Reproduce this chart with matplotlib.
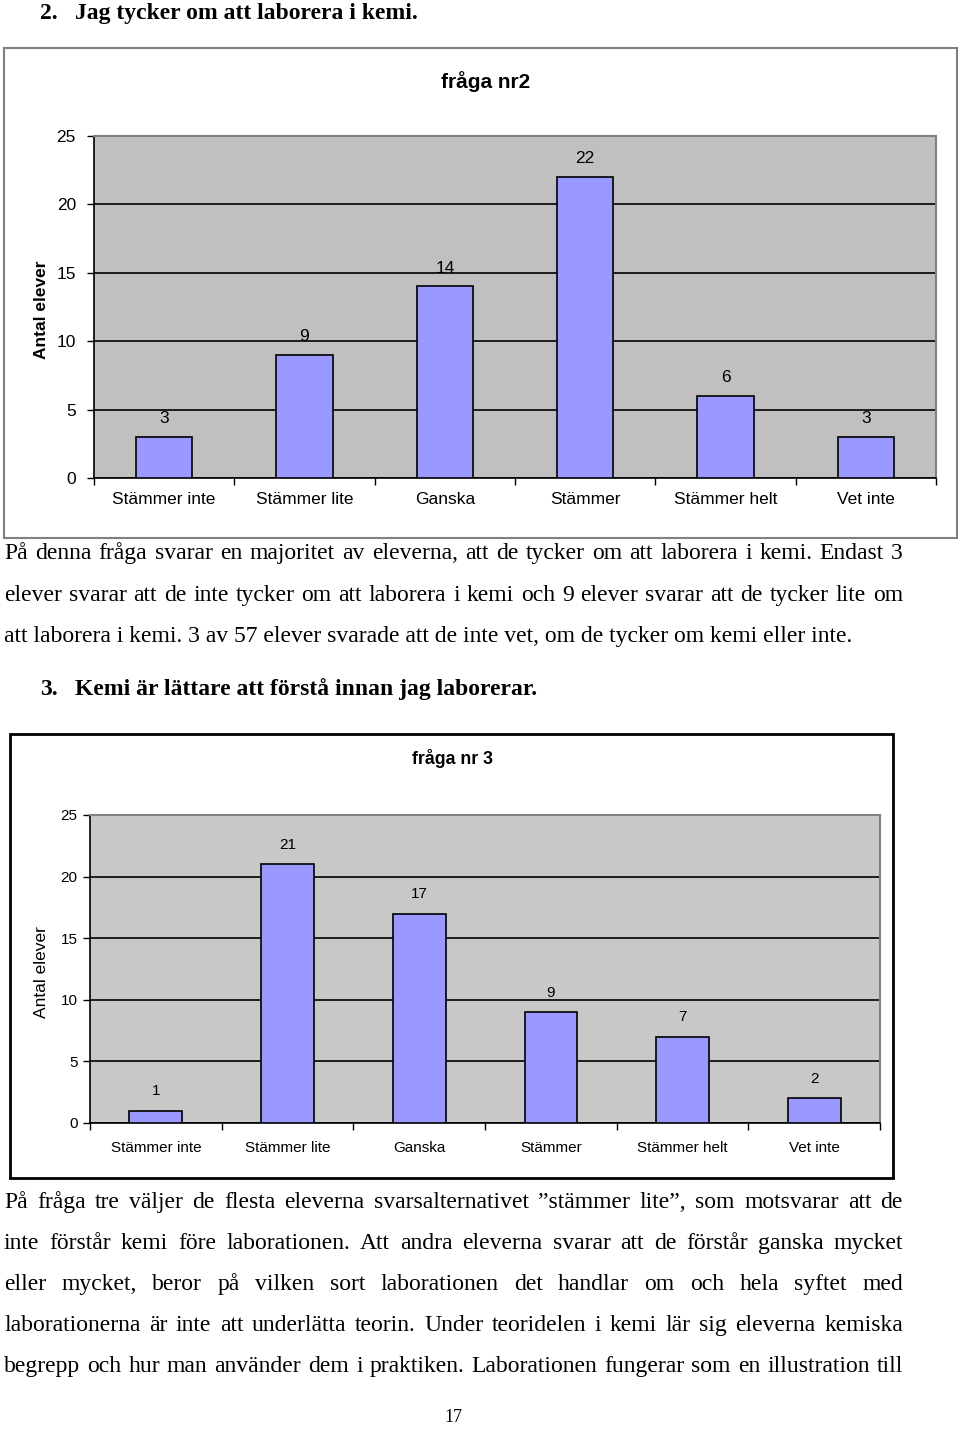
import matplotlib
matplotlib.use('Agg')
import matplotlib.pyplot as plt
from matplotlib.patches import Rectangle

W, H = 960, 1429

categories = ['Stämmer inte', 'Stämmer lite', 'Ganska', 'Stämmer', 'Stämmer helt', 'Vet inte']
fraga2 = [3, 9, 14, 22, 6, 3]
fraga3 = [1, 21, 17, 9, 7, 2]
yticks = [0, 5, 10, 15, 20, 25]

heading2 = 'Jag tycker om att laborera i kemi.'
heading3 = 'Kemi är lättare att förstå innan jag laborerar.'
para1 = [
    'På denna fråga svarar en majoritet av eleverna, att de tycker om att laborera i kemi. Endast 3',
    'elever svarar att de inte tycker om att laborera i kemi och 9 elever svarar att de tycker lite om',
    'att laborera i kemi. 3 av 57 elever svarade att de inte vet, om de tycker om kemi eller inte.',
]
para2 = [
    'På fråga tre väljer de flesta eleverna svarsalternativet ”stämmer lite”, som motsvarar att de',
    'inte förstår kemi före laborationen. Att andra eleverna svarar att de förstår ganska mycket',
    'eller mycket, beror på vilken sort laborationen det handlar om och hela syftet med',
    'laborationerna är inte att underlätta teorin. Under teoridelen i kemi lär sig eleverna kemiska',
    'begrepp och hur man använder dem i praktiken. Laborationen fungerar som en illustration till',
]

SERIF = 'Liberation Serif'
SANS = 'Liberation Sans'
BODY = 17

fig = plt.figure(figsize=(W / 100, H / 100), dpi=100)
renderer = fig.canvas.get_renderer()


def fx(x):
    return x / W


def fy(y):
    return 1 - y / H


def line(y, s, x0=4, x1=903, justify=True, size=BODY, **kw):
    # y is the visual centre of the line in pixels, text sits on a common baseline
    yb = fy(y + 7)
    if not justify:
        fig.text(fx(x0), yb, s, va='baseline', ha='left', family=SERIF, fontsize=size, **kw)
        return
    words = s.split(' ')
    texts = [fig.text(0, yb, w, va='baseline', ha='left', family=SERIF, fontsize=size, **kw)
             for w in words]
    widths = [t.get_window_extent(renderer).width for t in texts]
    gap = (x1 - x0 - sum(widths)) / (len(words) - 1)
    x = x0
    for t, w in zip(texts, widths):
        t.set_x(fx(x))
        x += w + gap


def frame(x0, y0, x1, y1, color, lw):
    fig.patches.append(Rectangle((fx(x0), fy(y1)), fx(x1) - fx(x0), fy(y0) - fy(y1),
                                 transform=fig.transFigure, fill=False,
                                 edgecolor=color, linewidth=lw))


def chart(rect, values, bg, lsize, ypad, xpad, lab_off):
    ax = fig.add_axes(rect)
    ax.set_facecolor(bg)
    x = range(len(values))
    bars = ax.bar(x, values, width=0.4, color='#9999FF', edgecolor='black', linewidth=1.2, zorder=3)
    for b, v in zip(bars, values):
        ax.annotate(str(v), (b.get_x() + b.get_width() / 2, v), xytext=(0, lab_off),
                    textcoords='offset points', ha='center', va='center',
                    family=SANS, fontsize=lsize)
    ax.set_xlim(-0.5, len(values) - 0.5)
    ax.set_ylim(0, 25)
    ax.set_yticks(yticks)
    ax.yaxis.grid(True, color='black', linewidth=1.2, zorder=1)
    ax.set_axisbelow(True)
    ax.set_xticks(list(x))
    ax.set_xticklabels(categories, family=SANS, fontsize=lsize)
    ax.set_xticks([i - 0.5 for i in range(len(values) + 1)], minor=True)
    ax.tick_params(axis='x', which='major', length=0, pad=xpad)
    ax.tick_params(axis='x', which='minor', length=5, width=1, direction='out')
    ax.tick_params(axis='y', length=5, width=1, pad=ypad, labelsize=lsize)
    for t in ax.get_yticklabels():
        t.set_family(SANS)
    for s in ['left', 'bottom']:
        ax.spines[s].set_color('black')
        ax.spines[s].set_linewidth(1.2)
    for s in ['top', 'right']:
        ax.spines[s].set_color('#808080')
        ax.spines[s].set_linewidth(1.5)
    return ax


# headings and text
fig.text(fx(40), fy(19), '2.', va='baseline', family=SERIF, fontsize=BODY, fontweight='bold')
fig.text(fx(75), fy(19), heading2, va='baseline', family=SERIF, fontsize=BODY, fontweight='bold')
for i, s in enumerate(para1):
    line(552 + i * 41.5, s, justify=(i < 2))
fig.text(fx(40), fy(695), '3.', va='baseline', family=SERIF, fontsize=BODY, fontweight='bold')
fig.text(fx(75), fy(695), heading3, va='baseline', family=SERIF, fontsize=BODY, fontweight='bold')
for i, s in enumerate(para2):
    line(1201 + i * 41, s)
fig.text(fx(453), fy(1418), '17', va='center', ha='center', family=SERIF, fontsize=13)

# chart 1
frame(4, 48, 957, 538, '#808080', 1.5)
ax1 = chart([fx(94), fy(478), fx(936) - fx(94), fy(136) - fy(478)], fraga2, '#C0C0C0',
            12.5, 8, 10, 13)
fig.text(fx(486), fy(82), 'fråga nr2', ha='center', va='center', family=SANS,
         fontsize=15, fontweight='bold')
fig.text(fx(42), fy(310), 'Antal elever', rotation=90, ha='center', va='center',
         family=SANS, fontsize=12.5, fontweight='bold')

# chart 2
frame(10, 734, 893, 1178, 'black', 2)
ax2 = chart([fx(90), fy(1123), fx(880) - fx(90), fy(815) - fy(1123)], fraga3, '#C8C8C8',
            11, 4, 13, 14)
fig.text(fx(452), fy(759), 'fråga nr 3', ha='center', va='center', family=SANS,
         fontsize=12.8, fontweight='bold')
fig.text(fx(42), fy(972), 'Antal elever', rotation=90, ha='center', va='center',
         family=SANS, fontsize=12.5)

fig.savefig('out.png', dpi=100)
